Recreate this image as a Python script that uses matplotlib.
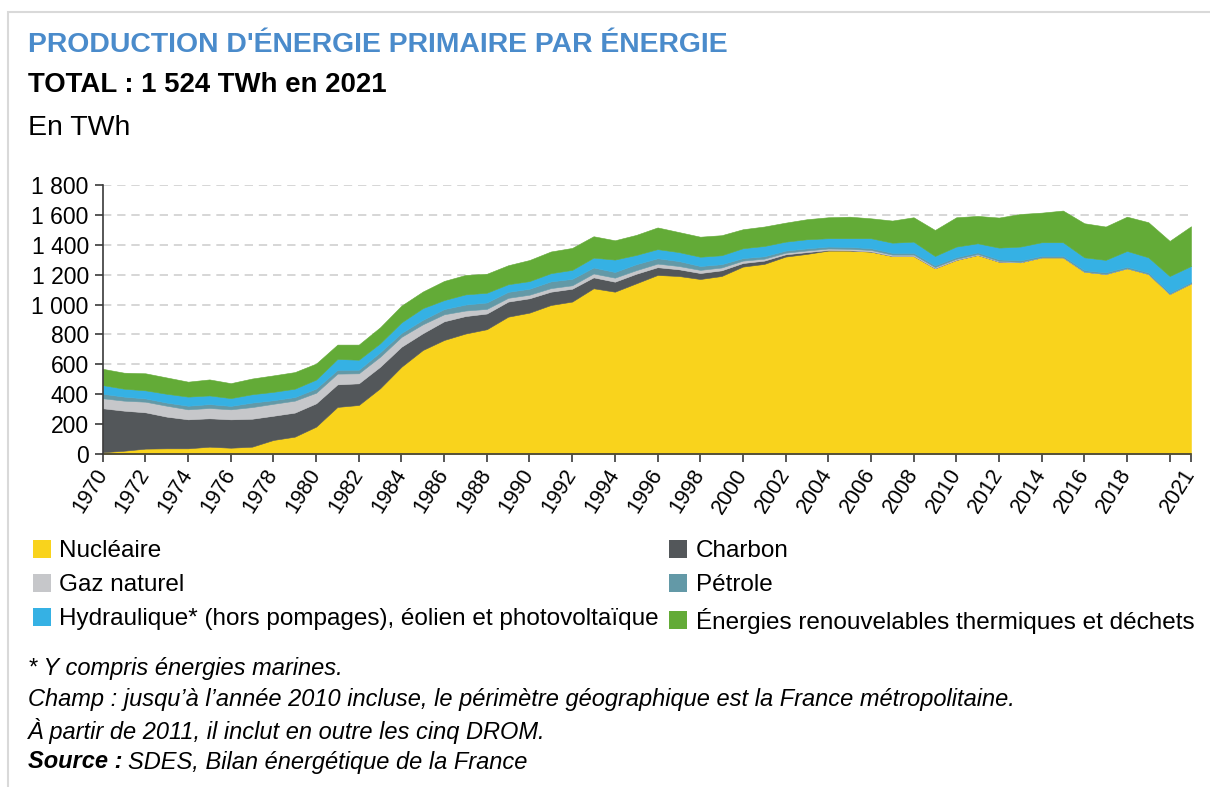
import matplotlib
matplotlib.use("Agg")
import matplotlib.pyplot as plt
from matplotlib.patches import Rectangle, Patch

plt.rcParams['font.family'] = ['Liberation Sans', 'DejaVu Sans']

years = list(range(1970, 2022))

# TWh
nucleaire = [12, 22, 36, 38, 38, 49, 42, 49, 94, 116,
             183, 315, 328, 440, 584, 696, 763, 806, 835, 919,
             946, 997, 1020, 1109, 1086, 1142, 1198, 1191, 1171, 1191,
             1254, 1272, 1321, 1339, 1361, 1361, 1354, 1325, 1325, 1243,
             1299, 1332, 1287, 1283, 1316, 1316, 1220, 1205, 1243, 1205,
             1071, 1142]
charbon = [294, 268, 243, 212, 194, 190, 190, 187, 162, 161,
           156, 151, 145, 144, 134, 112, 125, 117, 105, 101,
           96, 89, 86, 73, 67, 64, 52, 45, 40, 38,
           24, 22, 15, 12, 4, 2, 1, 0, 0, 0,
           0, 0, 0, 0, 0, 0, 0, 0, 0, 0,
           0, 0]
gaz = [67, 67, 71, 73, 67, 69, 67, 78, 80, 80,
       71, 72, 67, 67, 66, 60, 47, 37, 31, 25,
       24, 24, 23, 26, 27, 24, 24, 22, 21, 19,
       16, 13, 11, 11, 10, 10, 10, 9, 9, 8,
       7, 6, 5, 2, 0, 0, 0, 0, 0, 0,
       0, 0]
petrole = [30, 27, 22, 21, 24, 26, 23, 30, 24, 24,
           28, 25, 24, 30, 26, 30, 35, 40, 43, 40,
           40, 45, 43, 40, 38, 40, 36, 33, 26, 22,
           17, 16, 14, 14, 13, 13, 12, 12, 12, 11,
           11, 11, 10, 10, 10, 10, 10, 10, 10, 9,
           8, 8]
hydraulique = [58, 53, 54, 59, 61, 58, 52, 56, 56, 56,
               60, 73, 67, 60, 71, 78, 60, 68, 65, 51,
               51, 55, 60, 66, 83, 62, 61, 60, 62, 60,
               66, 69, 60, 61, 56, 58, 67, 68, 75, 63,
               71, 61, 79, 93, 91, 91, 86, 84, 106, 102,
               112, 108]
enr_thermiques = [109, 107, 114, 109, 100, 107, 100, 105, 110, 111,
                  107, 96, 101, 107, 112, 111, 128, 130, 127, 127,
                  141, 145, 147, 143, 129, 134, 145, 134, 134, 134,
                  127, 130, 127, 134, 140, 144, 133, 148, 163, 174,
                  196, 183, 201, 218, 198, 212, 228, 223, 229, 235,
                  235, 266]

series_labels = ["Nucléaire", "Charbon", "Gaz naturel", "Pétrole",
                 "Hydraulique* (hors pompages), éolien et photovoltaïque",
                 "Énergies renouvelables thermiques et déchets"]
colors = ["#f9d31c", "#53575a", "#c6c7ca", "#6399a7", "#35b1e4", "#63ab37"]

xticks = list(range(1970, 2021, 2)) + [2021]
xtick_labels = [str(y) if y != 2020 else "" for y in xticks]
yticks = [0, 200, 400, 600, 800, 1000, 1200, 1400, 1600, 1800]
ytick_labels = ["{:,}".format(v).replace(",", " ") for v in yticks]

fig = plt.figure(figsize=(12.1, 7.87), dpi=100)

# light frame around the card
fig.add_artist(Rectangle((8 / 1210, -0.1), 1.2, (787 - 12) / 787 + 0.1,
                         transform=fig.transFigure, fill=False,
                         edgecolor="#d9d9d9", linewidth=1.5))

ax = fig.add_axes([102.7 / 1210, 1 - 454 / 787, (1191 - 102.7) / 1210, (454 - 185) / 787])

stacks = [nucleaire, charbon, gaz, petrole, hydraulique, enr_thermiques]
polys = ax.stackplot(years, *stacks, colors=colors, linewidth=0.4)
for p, c in zip(polys, colors):
    p.set_edgecolor(c)

ax.set_xlim(1970, 2021)
ax.set_ylim(0, 1800)
ax.set_yticks(yticks)
ax.set_yticklabels(ytick_labels, fontsize=16.5)
ax.set_xticks(xticks)
ax.set_xticklabels(xtick_labels, fontsize=15.5, rotation=58, ha="right", va="center",
                   rotation_mode="anchor")
ax.yaxis.grid(True, linestyle=(0, (5, 3.5)), color="#d0d0d0", linewidth=1.2)
ax.set_axisbelow(True)
for s in ["top", "right"]:
    ax.spines[s].set_visible(False)
for s in ["left", "bottom"]:
    ax.spines[s].set_color("#3a3a3a")
    ax.spines[s].set_linewidth(1.2)
ax.tick_params(axis="both", direction="out", length=6, width=1.2, color="#3a3a3a", pad=4)
ax.tick_params(axis="x", pad=6)

fig.text(28 / 1210, 1 - 45 / 787, "PRODUCTION D'ÉNERGIE PRIMAIRE PAR ÉNERGIE",
         fontsize=20.4, fontweight="bold", color="#4a8bcb", va="center")
fig.text(28 / 1210, 1 - 85 / 787, "TOTAL : 1 524 TWh en 2021",
         fontsize=19.9, fontweight="bold", color="black", va="center")
fig.text(28 / 1210, 1 - 128 / 787, "En TWh", fontsize=20.5, color="black", va="center")

order = [0, 2, 4, 1, 3, 5]
handles = [Patch(facecolor=colors[i], edgecolor="none") for i in order]
labels = [series_labels[i] for i in order]
fig.legend(handles, labels, loc="upper left", bbox_to_anchor=(23 / 1210, 1 - 530 / 787),
           ncol=2, frameon=False, fontsize=17.5, handlelength=0.75, handleheight=0.75,
           handletextpad=0.35, columnspacing=0.4, labelspacing=0.48, borderaxespad=0)

notes = ["* Y compris énergies marines.",
         "Champ : jusqu\u2019à l\u2019année 2010 incluse, le périmètre géographique est la France métropolitaine.",
         "À partir de 2011, il inclut en outre les cinq DROM."]
for i, n in enumerate(notes):
    fig.text(28 / 1210, 1 - (668 + 31.5 * i) / 787, n, fontsize=17, style="italic", va="center")
src = fig.text(28 / 1210, 1 - 762 / 787, "Source :", fontsize=17, style="italic",
               fontweight="bold", va="center")
fig.canvas.draw()
bb = src.get_window_extent()
fig.text(bb.x1 / 1210 + 5 / 1210, 1 - 762 / 787, "SDES, Bilan énergétique de la France",
         fontsize=17, style="italic", va="center")

fig.savefig("out.png", dpi=100)
